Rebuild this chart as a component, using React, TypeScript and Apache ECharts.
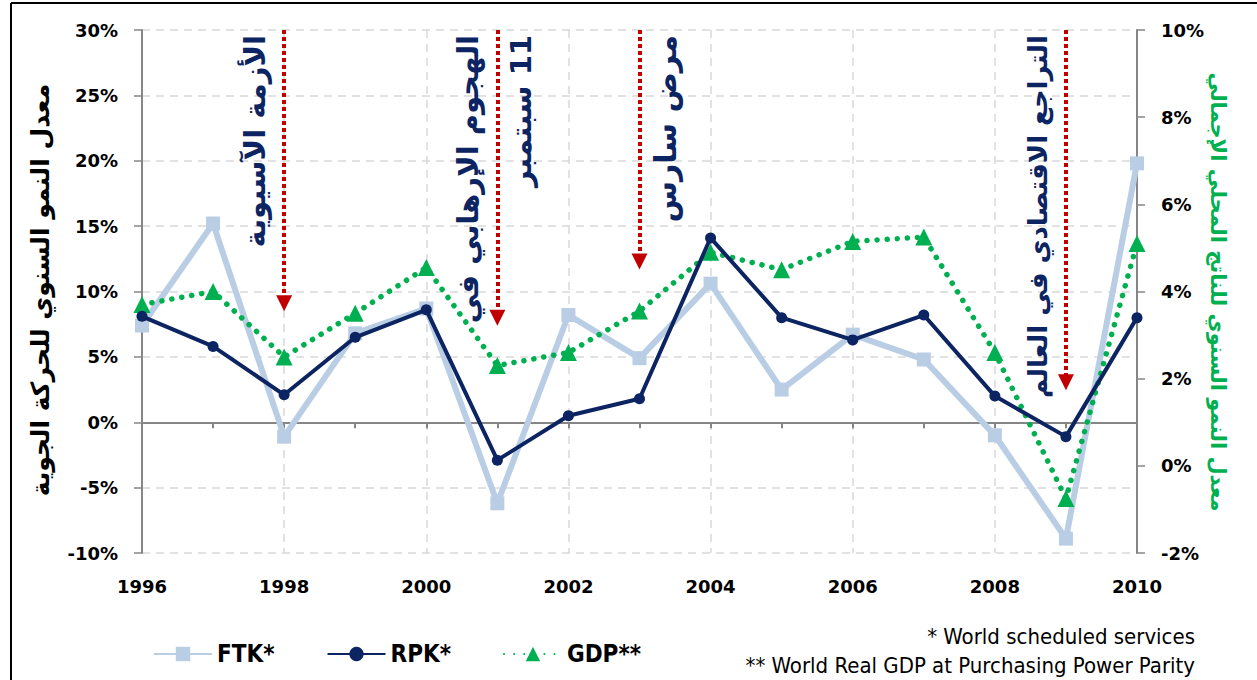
import React, { useEffect, useRef } from "react";
import * as echarts from "echarts";

const years = ["1996", "1997", "1998", "1999", "2000", "2001", "2002", "2003", "2004", "2005", "2006", "2007", "2008", "2009", "2010"];
const ftk = [7.4, 15.2, -1.1, 6.8, 8.7, -6.2, 8.2, 4.9, 10.6, 2.5, 6.7, 4.8, -1.0, -8.9, 19.8];
const rpk = [8.1, 5.8, 2.1, 6.5, 8.6, -2.9, 0.5, 1.8, 14.1, 8.0, 6.3, 8.2, 2.0, -1.1, 8.0];
const gdp = [3.7, 4.0, 2.5, 3.5, 4.55, 2.3, 2.6, 3.55, 4.9, 4.5, 5.15, 5.25, 2.6, -0.75, 5.1];

const leftMin = -10, leftMax = 30, leftStep = 5;
const rightMin = -2, rightMax = 10, rightStep = 2;

const leftTitle = "معدل النمو السنوي للحركة الجوية";
const rightTitle = "معدل النمو السنوي للناتج المحلي الإجمالي";

const events = [
  { year: "1998", tip: 9.1, texts: [{ t: "الأزمة الآسيوية", dx: -29, size: 29 }] },
  { year: "2001", tip: 8.0, texts: [{ t: "الهجوم الإرهابي في", dx: -29, size: 29 }, { t: "\u200F11 سبتمبر", dx: 24, size: 29 }] },
  { year: "2003", tip: 12.3, texts: [{ t: "مرض سارس", dx: 26, size: 30 }] },
  { year: "2009", tip: 3.05, texts: [{ t: "التراجع الاقتصادي في العالم", dx: -28, size: 26 }] },
];

const notes = ["* World scheduled services", "** World Real GDP at Purchasing Power Parity"];

const NAVY = "#0C2461";
const LIGHT = "#B9CDE5";
const GREEN = "#00B050";
const RED = "#C00000";
const AXIS = "#868686";
const GRID = "#D9D9D9";
const ARABIC = "'DejaVu Sans', sans-serif";
const NUM = "'DejaVu Sans', sans-serif";
const NARROW = "'Liberation Sans Narrow', 'DejaVu Sans Condensed', sans-serif";

export default function App() {
  const ref = useRef<HTMLDivElement>(null);
  useEffect(() => {
    document.body.style.margin = "0";
    const chart = echarts.init(ref.current!, null, { renderer: "svg" });
    const option: any = {
      animation: false,
      backgroundColor: "#ffffff",
      grid: { left: 142, right: 120, top: 30, bottom: 127, containLabel: false },
      legend: {
        data: ["FTK*", "RPK*", "GDP**"],
        left: 148,
        top: 637,
        itemWidth: 58,
        itemHeight: 18,
        itemGap: 52,
        textStyle: { fontFamily: NARROW, fontWeight: "bold", fontSize: 24, color: "#000" },
      },
      xAxis: [
        {
          type: "category",
          data: years,
          boundaryGap: false,
          position: "bottom",
          axisLine: { show: false },
          axisTick: { show: false },
          axisLabel: { interval: 1, margin: 24, fontFamily: NUM, fontWeight: "bold", fontSize: 18, color: "#000" },
          splitLine: { show: true, interval: 1, lineStyle: { color: GRID, type: [8, 6], width: 1.5 } },
        },
        {
          type: "category",
          data: years,
          boundaryGap: false,
          position: "top",
          axisLine: { show: true, onZero: true, onZeroAxisIndex: 0, lineStyle: { color: AXIS, width: 2 } },
          axisTick: { show: true, inside: true, interval: 0, length: 6, lineStyle: { color: AXIS, width: 2 } },
          axisLabel: { show: false },
          splitLine: { show: false },
        },
      ],
      yAxis: [
        {
          type: "value",
          min: leftMin,
          max: leftMax,
          interval: leftStep,
          position: "left",
          axisLine: { show: true, lineStyle: { color: AXIS, width: 2 } },
          axisTick: { show: true, length: 8, lineStyle: { color: AXIS, width: 1.5 } },
          axisLabel: { formatter: "{value}%", margin: 24, fontFamily: NUM, fontWeight: "bold", fontSize: 18, color: "#000" },
          splitLine: { show: true, lineStyle: { color: GRID, type: [8, 6], width: 1.5 } },
        },
        {
          type: "value",
          min: rightMin,
          max: rightMax,
          interval: rightStep,
          position: "right",
          axisLine: { show: true, lineStyle: { color: AXIS, width: 2 } },
          axisTick: { show: true, length: 8, lineStyle: { color: AXIS, width: 1.5 } },
          axisLabel: { formatter: "{value}%", margin: 24, fontFamily: NUM, fontWeight: "bold", fontSize: 18, color: "#000" },
          splitLine: { show: false },
        },
      ],
      series: [
        {
          name: "FTK*",
          type: "line",
          data: ftk,
          xAxisIndex: 0,
          yAxisIndex: 0,
          symbol: "rect",
          symbolSize: 14,
          color: LIGHT,
          lineStyle: { color: LIGHT, width: 6 },
          itemStyle: { color: LIGHT },
          z: 2,
          markLine: {
            silent: true,
            symbol: ["none", "triangle"],
            symbolSize: 16,
            label: { show: false },
            lineStyle: { color: RED, type: [4, 3], width: 4 },
            itemStyle: { color: RED },
            emphasis: { disabled: true },
            data: events.map((e) => [
              { coord: [e.year, leftMax] },
              { coord: [e.year, e.tip] },
            ]),
          },
        },
        {
          name: "GDP**",
          type: "line",
          data: gdp,
          xAxisIndex: 0,
          yAxisIndex: 1,
          symbol: "triangle",
          symbolSize: 17,
          color: GREEN,
          lineStyle: { color: GREEN, width: 5.5, type: [0.1, 10], cap: "round" },
          itemStyle: { color: GREEN },
          z: 3,
        },
        {
          name: "RPK*",
          type: "line",
          data: rpk,
          xAxisIndex: 0,
          yAxisIndex: 0,
          symbol: "circle",
          symbolSize: 11,
          color: NAVY,
          lineStyle: { color: NAVY, width: 4 },
          itemStyle: { color: NAVY },
          z: 4,
        },
      ],
    };
    chart.setOption(option);

    const graphics: any[] = [];
    events.forEach((e) => {
      const top = chart.convertToPixel({ xAxisIndex: 0, yAxisIndex: 0 }, [e.year, leftMax]) as number[];
      e.texts.forEach((tx) => {
        graphics.push({
          type: "text",
          x: top[0] + tx.dx,
          y: top[1] + 5,
          rotation: Math.PI / 2,
          style: {
            text: tx.t,
            fill: NAVY,
            font: `bold ${tx.size}px ${ARABIC}`,
            align: "right",
            verticalAlign: "middle",
          },
          z: 10,
        });
      });
    });
    graphics.push({
      type: "text",
      x: 40,
      y: 290,
      rotation: Math.PI / 2,
      style: { text: leftTitle, fill: "#000", font: `bold 25px ${ARABIC}`, align: "center", verticalAlign: "middle" },
    });
    graphics.push({
      type: "text",
      x: 1218,
      y: 292,
      rotation: -Math.PI / 2,
      style: { text: rightTitle, fill: GREEN, font: `bold 21px ${ARABIC}`, align: "center", verticalAlign: "middle" },
    });
    notes.forEach((n, i) => {
      graphics.push({
        type: "text",
        x: 1195,
        y: 636 + i * 29,
        style: { text: n, fill: "#000", font: `22px ${NARROW}`, align: "right", verticalAlign: "middle" },
      });
    });
    graphics.push({ type: "line", shape: { x1: 11, y1: 3, x2: 1257, y2: 3 }, style: { stroke: "#000", lineWidth: 2 } });
    graphics.push({ type: "line", shape: { x1: 11, y1: 3, x2: 11, y2: 680 }, style: { stroke: "#000", lineWidth: 2 } });
    chart.setOption({ graphic: graphics });

    return () => chart.dispose();
  }, []);
  return <div ref={ref} style={{ position: "fixed", left: 0, top: 0, width: 1257, height: 680 }} />;
}
